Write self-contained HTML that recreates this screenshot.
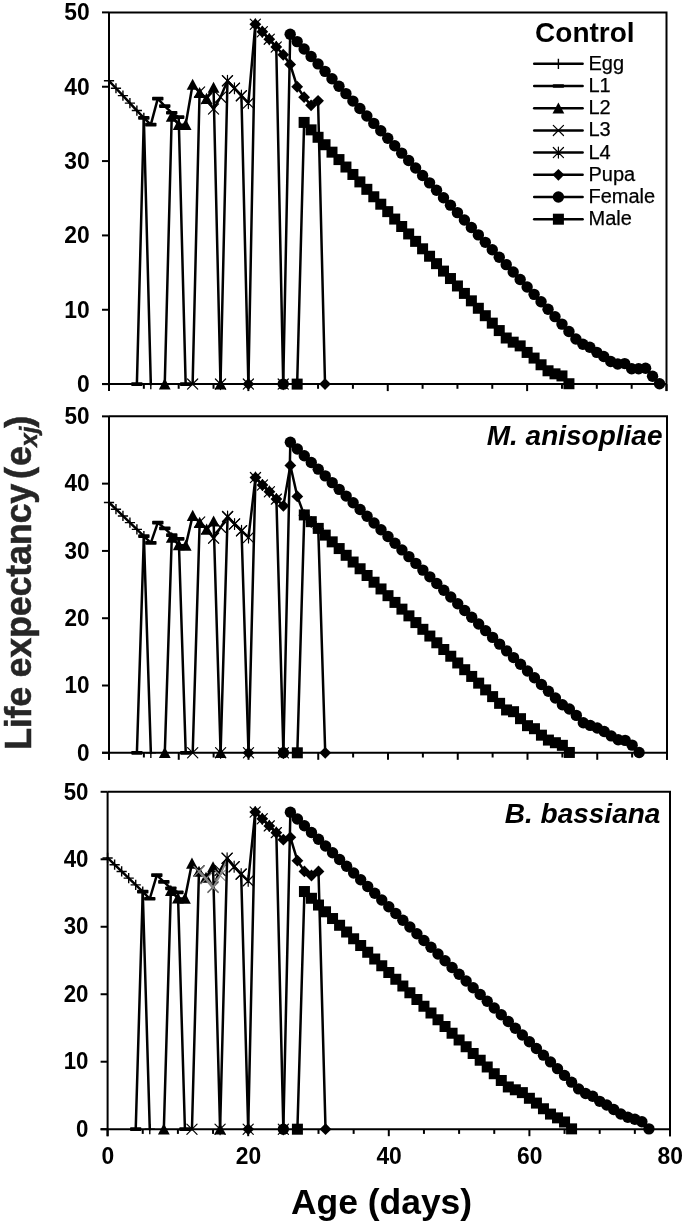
<!DOCTYPE html>
<html><head><meta charset="utf-8"><title>Life expectancy</title>
<style>
html,body{margin:0;padding:0;background:#fff;}
body{width:685px;height:1226px;overflow:hidden;font-family:"Liberation Sans",sans-serif;}
svg{display:block;will-change:transform;}
text{font-family:"Liberation Sans",sans-serif;fill:#000;}
.t{font-weight:bold;font-size:24.7px;}
.lg{font-size:20px;stroke:#000;stroke-width:0.25px;}
.ttl{font-weight:bold;font-size:28px;}
.ax{font-weight:bold;font-size:36px;fill:#262626;stroke:#262626;stroke-width:0.5px;}
</style></head><body>
<svg width="685" height="1226" viewBox="0 0 685 1226">
<rect width="685" height="1226" fill="#fff"/>

<g id="panel1">
<path d="M109.0 12.4H666.5V391.1M102.0 384.1H666.5M109.0 12.4V391.1" stroke="#000" stroke-width="2.0" fill="none" stroke-linecap="butt"/>
<path d="M102.0 384.10H109.0" stroke="#000" stroke-width="2.0"/>
<text class="t" style="font-size:24.1px" transform="translate(89.6,391.90) scale(0.948,1)" text-anchor="end">0</text>
<path d="M102.0 309.76H109.0" stroke="#000" stroke-width="2.0"/>
<text class="t" style="font-size:24.1px" transform="translate(89.6,317.56) scale(0.948,1)" text-anchor="end">10</text>
<path d="M102.0 235.42H109.0" stroke="#000" stroke-width="2.0"/>
<text class="t" style="font-size:24.1px" transform="translate(89.6,243.22) scale(0.948,1)" text-anchor="end">20</text>
<path d="M102.0 161.08H109.0" stroke="#000" stroke-width="2.0"/>
<text class="t" style="font-size:24.1px" transform="translate(89.6,168.88) scale(0.948,1)" text-anchor="end">30</text>
<path d="M102.0 86.74H109.0" stroke="#000" stroke-width="2.0"/>
<text class="t" style="font-size:24.1px" transform="translate(89.6,94.54) scale(0.948,1)" text-anchor="end">40</text>
<path d="M102.0 12.40H109.0" stroke="#000" stroke-width="2.0"/>
<text class="t" style="font-size:24.1px" transform="translate(89.6,20.20) scale(0.948,1)" text-anchor="end">50</text>
<path d="M109.00 384.1V391.1" stroke="#000" stroke-width="2.0"/>
<path d="M143.84 384.1V388.8" stroke="#000" stroke-width="2.0"/>
<path d="M178.69 384.1V388.8" stroke="#000" stroke-width="2.0"/>
<path d="M213.53 384.1V388.8" stroke="#000" stroke-width="2.0"/>
<path d="M248.38 384.1V391.1" stroke="#000" stroke-width="2.0"/>
<path d="M283.22 384.1V388.8" stroke="#000" stroke-width="2.0"/>
<path d="M318.06 384.1V388.8" stroke="#000" stroke-width="2.0"/>
<path d="M352.91 384.1V388.8" stroke="#000" stroke-width="2.0"/>
<path d="M387.75 384.1V391.1" stroke="#000" stroke-width="2.0"/>
<path d="M422.59 384.1V388.8" stroke="#000" stroke-width="2.0"/>
<path d="M457.44 384.1V388.8" stroke="#000" stroke-width="2.0"/>
<path d="M492.28 384.1V388.8" stroke="#000" stroke-width="2.0"/>
<path d="M527.12 384.1V391.1" stroke="#000" stroke-width="2.0"/>
<path d="M561.97 384.1V388.8" stroke="#000" stroke-width="2.0"/>
<path d="M596.81 384.1V388.8" stroke="#000" stroke-width="2.0"/>
<path d="M631.66 384.1V388.8" stroke="#000" stroke-width="2.0"/>
<path d="M666.50 384.1V391.1" stroke="#000" stroke-width="2.0"/>
<polyline points="109.00,80.79 115.97,88.23 122.94,95.66 129.91,103.09 136.88,110.53 143.84,117.96 150.81,384.10" fill="none" stroke="#000" stroke-width="2.5" stroke-linejoin="round" stroke-linecap="round"/>
<path d="M103.90 80.79H114.10M109.0 75.69V85.89" stroke="#000" stroke-width="1.4" fill="none"/>
<path d="M110.87 88.23H121.07M115.97 83.13V93.33" stroke="#000" stroke-width="1.4" fill="none"/>
<path d="M117.84 95.66H128.04M122.94 90.56V100.76" stroke="#000" stroke-width="1.4" fill="none"/>
<path d="M124.81 103.09H135.01M129.91 97.99V108.19" stroke="#000" stroke-width="1.4" fill="none"/>
<path d="M131.78 110.53H141.98M136.88 105.43V115.63" stroke="#000" stroke-width="1.4" fill="none"/>
<path d="M138.74 117.96H148.94M143.84 112.86V123.06" stroke="#000" stroke-width="1.4" fill="none"/>
<path d="M145.71 384.1H155.91M150.81 379.00V389.20" stroke="#000" stroke-width="1.4" fill="none"/>
<polyline points="136.88,384.10 143.84,117.96 150.81,124.65 157.78,98.63 164.75,106.07 171.72,112.76 178.69,117.22 185.66,384.10" fill="none" stroke="#000" stroke-width="2.5" stroke-linejoin="round" stroke-linecap="round"/>
<rect x="131.18" y="382.25" width="11.4" height="3.7" rx="0.8" fill="#000"/>
<rect x="138.14" y="116.11" width="11.4" height="3.7" rx="0.8" fill="#000"/>
<rect x="145.11" y="122.80" width="11.4" height="3.7" rx="0.8" fill="#000"/>
<rect x="152.08" y="96.78" width="11.4" height="3.7" rx="0.8" fill="#000"/>
<rect x="159.05" y="104.22" width="11.4" height="3.7" rx="0.8" fill="#000"/>
<rect x="166.02" y="110.91" width="11.4" height="3.7" rx="0.8" fill="#000"/>
<rect x="172.99" y="115.37" width="11.4" height="3.7" rx="0.8" fill="#000"/>
<rect x="179.96" y="382.25" width="11.4" height="3.7" rx="0.8" fill="#000"/>
<polyline points="164.75,384.10 171.72,116.48 178.69,124.65 185.66,124.65 192.62,84.51 199.59,92.69 206.56,98.63 213.53,87.48 220.50,384.10" fill="none" stroke="#000" stroke-width="2.5" stroke-linejoin="round" stroke-linecap="round"/>
<path d="M164.75 378.30L170.65 389.40H158.85Z" fill="#000"/>
<path d="M171.72 110.68L177.62 121.78H165.82Z" fill="#000"/>
<path d="M178.69 118.85L184.59 129.95H172.79Z" fill="#000"/>
<path d="M185.66 118.85L191.56 129.95H179.76Z" fill="#000"/>
<path d="M192.62 78.71L198.52 89.81H186.72Z" fill="#000"/>
<path d="M199.59 86.89L205.49 97.99H193.69Z" fill="#000"/>
<path d="M206.56 92.83L212.46 103.93H200.66Z" fill="#000"/>
<path d="M213.53 81.68L219.43 92.78H207.63Z" fill="#000"/>
<path d="M220.5 378.30L226.40 389.40H214.60Z" fill="#000"/>
<polyline points="192.62,384.10 199.59,91.94 206.56,98.63 213.53,109.04 220.50,97.15 227.47,80.79 234.44,88.23 241.41,95.66 248.38,384.10" fill="none" stroke="#000" stroke-width="2.5" stroke-linejoin="round" stroke-linecap="round"/>
<path d="M187.52 379.00L197.72 389.20M187.52 389.20L197.72 379.00" stroke="#000" stroke-width="1.2" fill="none" stroke-linecap="round"/>
<path d="M194.49 86.84L204.69 97.04M194.49 97.04L204.69 86.84" stroke="#000" stroke-width="1.2" fill="none" stroke-linecap="round"/>
<path d="M201.46 93.53L211.66 103.73M201.46 103.73L211.66 93.53" stroke="#000" stroke-width="1.2" fill="none" stroke-linecap="round"/>
<path d="M208.43 103.94L218.63 114.14M208.43 114.14L218.63 103.94" stroke="#000" stroke-width="1.2" fill="none" stroke-linecap="round"/>
<path d="M215.40 92.05L225.60 102.25M215.40 102.25L225.60 92.05" stroke="#000" stroke-width="1.2" fill="none" stroke-linecap="round"/>
<path d="M222.37 75.69L232.57 85.89M222.37 85.89L232.57 75.69" stroke="#000" stroke-width="1.2" fill="none" stroke-linecap="round"/>
<path d="M229.34 83.13L239.54 93.33M229.34 93.33L239.54 83.13" stroke="#000" stroke-width="1.2" fill="none" stroke-linecap="round"/>
<path d="M236.31 90.56L246.51 100.76M236.31 100.76L246.51 90.56" stroke="#000" stroke-width="1.2" fill="none" stroke-linecap="round"/>
<path d="M243.28 379.00L253.48 389.20M243.28 389.20L253.48 379.00" stroke="#000" stroke-width="1.2" fill="none" stroke-linecap="round"/>
<polyline points="220.50,384.10 227.47,80.79 234.44,88.23 241.41,95.66 248.38,103.09 255.34,24.29 262.31,31.73 269.28,39.16 276.25,46.97 283.22,384.10" fill="none" stroke="#000" stroke-width="2.5" stroke-linejoin="round" stroke-linecap="round"/>
<path d="M215.40 379.00L225.60 389.20M215.40 389.20L225.60 379.00M220.5 378.60V389.60" stroke="#000" stroke-width="1.2" fill="none" stroke-linecap="round"/>
<path d="M222.37 75.69L232.57 85.89M222.37 85.89L232.57 75.69M227.47 75.29V86.29" stroke="#000" stroke-width="1.2" fill="none" stroke-linecap="round"/>
<path d="M229.34 83.13L239.54 93.33M229.34 93.33L239.54 83.13M234.44 82.73V93.73" stroke="#000" stroke-width="1.2" fill="none" stroke-linecap="round"/>
<path d="M236.31 90.56L246.51 100.76M236.31 100.76L246.51 90.56M241.41 90.16V101.16" stroke="#000" stroke-width="1.2" fill="none" stroke-linecap="round"/>
<path d="M243.28 97.99L253.48 108.19M243.28 108.19L253.48 97.99M248.38 97.59V108.59" stroke="#000" stroke-width="1.2" fill="none" stroke-linecap="round"/>
<path d="M250.24 19.19L260.44 29.39M250.24 29.39L260.44 19.19M255.34 18.79V29.79" stroke="#000" stroke-width="1.2" fill="none" stroke-linecap="round"/>
<path d="M257.21 26.63L267.41 36.83M257.21 36.83L267.41 26.63M262.31 26.23V37.23" stroke="#000" stroke-width="1.2" fill="none" stroke-linecap="round"/>
<path d="M264.18 34.06L274.38 44.26M264.18 44.26L274.38 34.06M269.28 33.66V44.66" stroke="#000" stroke-width="1.2" fill="none" stroke-linecap="round"/>
<path d="M271.15 41.87L281.35 52.07M271.15 52.07L281.35 41.87M276.25 41.47V52.47" stroke="#000" stroke-width="1.2" fill="none" stroke-linecap="round"/>
<path d="M278.12 379.00L288.32 389.20M278.12 389.20L288.32 379.00M283.22 378.60V389.60" stroke="#000" stroke-width="1.2" fill="none" stroke-linecap="round"/>
<polyline points="248.38,384.10 255.34,24.29 262.31,31.73 269.28,39.16 276.25,46.97 283.22,54.77 290.19,64.44 297.16,86.74 304.12,97.15 311.09,105.32 318.06,100.86 325.03,384.10" fill="none" stroke="#000" stroke-width="2.5" stroke-linejoin="round" stroke-linecap="round"/>
<path d="M248.38 378.20L254.28 384.1L248.38 390.00L242.48 384.1Z" fill="#000"/>
<path d="M255.34 18.39L261.24 24.29L255.34 30.19L249.44 24.29Z" fill="#000"/>
<path d="M262.31 25.83L268.21 31.73L262.31 37.63L256.41 31.73Z" fill="#000"/>
<path d="M269.28 33.26L275.18 39.16L269.28 45.06L263.38 39.16Z" fill="#000"/>
<path d="M276.25 41.07L282.15 46.97L276.25 52.87L270.35 46.97Z" fill="#000"/>
<path d="M283.22 48.87L289.12 54.77L283.22 60.67L277.32 54.77Z" fill="#000"/>
<path d="M290.19 58.54L296.09 64.44L290.19 70.34L284.29 64.44Z" fill="#000"/>
<path d="M297.16 80.84L303.06 86.74L297.16 92.64L291.26 86.74Z" fill="#000"/>
<path d="M304.12 91.25L310.02 97.15L304.12 103.05L298.22 97.15Z" fill="#000"/>
<path d="M311.09 99.42L316.99 105.32L311.09 111.22L305.19 105.32Z" fill="#000"/>
<path d="M318.06 94.96L323.96 100.86L318.06 106.76L312.16 100.86Z" fill="#000"/>
<path d="M325.03 378.20L330.93 384.1L325.03 390.00L319.13 384.1Z" fill="#000"/>
<polyline points="283.22,384.10 290.19,34.18 297.16,41.62 304.12,49.05 311.09,56.48 318.06,63.92 325.03,71.35 332.00,78.79 338.97,86.22 345.94,93.65 352.91,101.09 359.88,108.52 366.84,115.96 373.81,123.39 380.78,130.82 387.75,138.26 394.72,145.69 401.69,153.13 408.66,160.56 415.62,167.99 422.59,175.43 429.56,182.86 436.53,190.30 443.50,197.73 450.47,205.16 457.44,212.60 464.41,220.03 471.38,227.47 478.34,234.90 485.31,242.33 492.28,249.77 499.25,257.20 506.22,264.64 513.19,272.07 520.16,279.50 527.12,286.94 534.09,294.37 541.06,301.81 548.03,309.24 555.00,316.67 561.97,324.11 568.94,331.54 575.91,338.98 582.88,344.18 589.84,347.23 596.81,352.36 603.78,356.45 610.75,361.57 617.72,364.03 624.69,363.58 631.66,368.71 638.62,368.71 645.59,368.27 652.56,376.22 659.53,383.73" fill="none" stroke="#000" stroke-width="2.5" stroke-linejoin="round" stroke-linecap="round"/>
<circle cx="283.22" cy="384.1" r="5.7" fill="#000"/>
<circle cx="290.19" cy="34.18" r="5.7" fill="#000"/>
<circle cx="297.16" cy="41.62" r="5.7" fill="#000"/>
<circle cx="304.12" cy="49.05" r="5.7" fill="#000"/>
<circle cx="311.09" cy="56.48" r="5.7" fill="#000"/>
<circle cx="318.06" cy="63.92" r="5.7" fill="#000"/>
<circle cx="325.03" cy="71.35" r="5.7" fill="#000"/>
<circle cx="332.0" cy="78.79" r="5.7" fill="#000"/>
<circle cx="338.97" cy="86.22" r="5.7" fill="#000"/>
<circle cx="345.94" cy="93.65" r="5.7" fill="#000"/>
<circle cx="352.91" cy="101.09" r="5.7" fill="#000"/>
<circle cx="359.88" cy="108.52" r="5.7" fill="#000"/>
<circle cx="366.84" cy="115.96" r="5.7" fill="#000"/>
<circle cx="373.81" cy="123.39" r="5.7" fill="#000"/>
<circle cx="380.78" cy="130.82" r="5.7" fill="#000"/>
<circle cx="387.75" cy="138.26" r="5.7" fill="#000"/>
<circle cx="394.72" cy="145.69" r="5.7" fill="#000"/>
<circle cx="401.69" cy="153.13" r="5.7" fill="#000"/>
<circle cx="408.66" cy="160.56" r="5.7" fill="#000"/>
<circle cx="415.62" cy="167.99" r="5.7" fill="#000"/>
<circle cx="422.59" cy="175.43" r="5.7" fill="#000"/>
<circle cx="429.56" cy="182.86" r="5.7" fill="#000"/>
<circle cx="436.53" cy="190.3" r="5.7" fill="#000"/>
<circle cx="443.5" cy="197.73" r="5.7" fill="#000"/>
<circle cx="450.47" cy="205.16" r="5.7" fill="#000"/>
<circle cx="457.44" cy="212.6" r="5.7" fill="#000"/>
<circle cx="464.41" cy="220.03" r="5.7" fill="#000"/>
<circle cx="471.38" cy="227.47" r="5.7" fill="#000"/>
<circle cx="478.34" cy="234.9" r="5.7" fill="#000"/>
<circle cx="485.31" cy="242.33" r="5.7" fill="#000"/>
<circle cx="492.28" cy="249.77" r="5.7" fill="#000"/>
<circle cx="499.25" cy="257.2" r="5.7" fill="#000"/>
<circle cx="506.22" cy="264.64" r="5.7" fill="#000"/>
<circle cx="513.19" cy="272.07" r="5.7" fill="#000"/>
<circle cx="520.16" cy="279.5" r="5.7" fill="#000"/>
<circle cx="527.12" cy="286.94" r="5.7" fill="#000"/>
<circle cx="534.09" cy="294.37" r="5.7" fill="#000"/>
<circle cx="541.06" cy="301.81" r="5.7" fill="#000"/>
<circle cx="548.03" cy="309.24" r="5.7" fill="#000"/>
<circle cx="555.0" cy="316.67" r="5.7" fill="#000"/>
<circle cx="561.97" cy="324.11" r="5.7" fill="#000"/>
<circle cx="568.94" cy="331.54" r="5.7" fill="#000"/>
<circle cx="575.91" cy="338.98" r="5.7" fill="#000"/>
<circle cx="582.88" cy="344.18" r="5.7" fill="#000"/>
<circle cx="589.84" cy="347.23" r="5.7" fill="#000"/>
<circle cx="596.81" cy="352.36" r="5.7" fill="#000"/>
<circle cx="603.78" cy="356.45" r="5.7" fill="#000"/>
<circle cx="610.75" cy="361.57" r="5.7" fill="#000"/>
<circle cx="617.72" cy="364.03" r="5.7" fill="#000"/>
<circle cx="624.69" cy="363.58" r="5.7" fill="#000"/>
<circle cx="631.66" cy="368.71" r="5.7" fill="#000"/>
<circle cx="638.62" cy="368.71" r="5.7" fill="#000"/>
<circle cx="645.59" cy="368.27" r="5.7" fill="#000"/>
<circle cx="652.56" cy="376.22" r="5.7" fill="#000"/>
<circle cx="659.53" cy="383.73" r="5.7" fill="#000"/>
<polyline points="297.16,384.10 304.12,122.42 311.09,129.86 318.06,137.29 325.03,144.73 332.00,152.16 338.97,159.59 345.94,167.03 352.91,174.46 359.88,181.90 366.84,189.33 373.81,196.76 380.78,204.20 387.75,211.63 394.72,219.07 401.69,226.50 408.66,233.93 415.62,241.37 422.59,248.80 429.56,256.24 436.53,263.67 443.50,271.10 450.47,278.54 457.44,285.97 464.41,293.41 471.38,300.84 478.34,308.27 485.31,315.71 492.28,323.14 499.25,330.58 506.22,338.01 513.19,342.17 520.16,345.89 527.12,352.43 534.09,358.08 541.06,364.77 548.03,370.79 555.00,373.84 561.97,375.92 568.94,383.73" fill="none" stroke="#000" stroke-width="2.5" stroke-linejoin="round" stroke-linecap="round"/>
<rect x="291.66" y="378.60" width="11" height="11" fill="#000"/>
<rect x="298.62" y="116.92" width="11" height="11" fill="#000"/>
<rect x="305.59" y="124.36" width="11" height="11" fill="#000"/>
<rect x="312.56" y="131.79" width="11" height="11" fill="#000"/>
<rect x="319.53" y="139.23" width="11" height="11" fill="#000"/>
<rect x="326.50" y="146.66" width="11" height="11" fill="#000"/>
<rect x="333.47" y="154.09" width="11" height="11" fill="#000"/>
<rect x="340.44" y="161.53" width="11" height="11" fill="#000"/>
<rect x="347.41" y="168.96" width="11" height="11" fill="#000"/>
<rect x="354.38" y="176.40" width="11" height="11" fill="#000"/>
<rect x="361.34" y="183.83" width="11" height="11" fill="#000"/>
<rect x="368.31" y="191.26" width="11" height="11" fill="#000"/>
<rect x="375.28" y="198.70" width="11" height="11" fill="#000"/>
<rect x="382.25" y="206.13" width="11" height="11" fill="#000"/>
<rect x="389.22" y="213.57" width="11" height="11" fill="#000"/>
<rect x="396.19" y="221.00" width="11" height="11" fill="#000"/>
<rect x="403.16" y="228.43" width="11" height="11" fill="#000"/>
<rect x="410.12" y="235.87" width="11" height="11" fill="#000"/>
<rect x="417.09" y="243.30" width="11" height="11" fill="#000"/>
<rect x="424.06" y="250.74" width="11" height="11" fill="#000"/>
<rect x="431.03" y="258.17" width="11" height="11" fill="#000"/>
<rect x="438.00" y="265.60" width="11" height="11" fill="#000"/>
<rect x="444.97" y="273.04" width="11" height="11" fill="#000"/>
<rect x="451.94" y="280.47" width="11" height="11" fill="#000"/>
<rect x="458.91" y="287.91" width="11" height="11" fill="#000"/>
<rect x="465.88" y="295.34" width="11" height="11" fill="#000"/>
<rect x="472.84" y="302.77" width="11" height="11" fill="#000"/>
<rect x="479.81" y="310.21" width="11" height="11" fill="#000"/>
<rect x="486.78" y="317.64" width="11" height="11" fill="#000"/>
<rect x="493.75" y="325.08" width="11" height="11" fill="#000"/>
<rect x="500.72" y="332.51" width="11" height="11" fill="#000"/>
<rect x="507.69" y="336.67" width="11" height="11" fill="#000"/>
<rect x="514.66" y="340.39" width="11" height="11" fill="#000"/>
<rect x="521.62" y="346.93" width="11" height="11" fill="#000"/>
<rect x="528.59" y="352.58" width="11" height="11" fill="#000"/>
<rect x="535.56" y="359.27" width="11" height="11" fill="#000"/>
<rect x="542.53" y="365.29" width="11" height="11" fill="#000"/>
<rect x="549.50" y="368.34" width="11" height="11" fill="#000"/>
<rect x="556.47" y="370.42" width="11" height="11" fill="#000"/>
<rect x="563.44" y="378.23" width="11" height="11" fill="#000"/>
</g>
<g id="panel2">
<path d="M109.0 416.35H667.0V759.8M102.0 752.8H667.0M109.0 416.35V759.8" stroke="#000" stroke-width="2.0" fill="none" stroke-linecap="butt"/>
<path d="M102.0 752.80H109.0" stroke="#000" stroke-width="2.0"/>
<text class="t" style="font-size:23.7px" transform="translate(89.6,760.60) scale(0.951,1)" text-anchor="end">0</text>
<path d="M102.0 685.51H109.0" stroke="#000" stroke-width="2.0"/>
<text class="t" style="font-size:23.7px" transform="translate(89.6,693.31) scale(0.951,1)" text-anchor="end">10</text>
<path d="M102.0 618.22H109.0" stroke="#000" stroke-width="2.0"/>
<text class="t" style="font-size:23.7px" transform="translate(89.6,626.02) scale(0.951,1)" text-anchor="end">20</text>
<path d="M102.0 550.93H109.0" stroke="#000" stroke-width="2.0"/>
<text class="t" style="font-size:23.7px" transform="translate(89.6,558.73) scale(0.951,1)" text-anchor="end">30</text>
<path d="M102.0 483.64H109.0" stroke="#000" stroke-width="2.0"/>
<text class="t" style="font-size:23.7px" transform="translate(89.6,491.44) scale(0.951,1)" text-anchor="end">40</text>
<path d="M102.0 416.35H109.0" stroke="#000" stroke-width="2.0"/>
<text class="t" style="font-size:23.7px" transform="translate(89.6,424.15) scale(0.951,1)" text-anchor="end">50</text>
<path d="M109.00 752.8V759.8" stroke="#000" stroke-width="2.0"/>
<path d="M143.88 752.8V757.5" stroke="#000" stroke-width="2.0"/>
<path d="M178.75 752.8V759.8" stroke="#000" stroke-width="2.0"/>
<path d="M213.62 752.8V757.5" stroke="#000" stroke-width="2.0"/>
<path d="M248.50 752.8V759.8" stroke="#000" stroke-width="2.0"/>
<path d="M283.38 752.8V757.5" stroke="#000" stroke-width="2.0"/>
<path d="M318.25 752.8V759.8" stroke="#000" stroke-width="2.0"/>
<path d="M353.12 752.8V757.5" stroke="#000" stroke-width="2.0"/>
<path d="M388.00 752.8V759.8" stroke="#000" stroke-width="2.0"/>
<path d="M422.88 752.8V757.5" stroke="#000" stroke-width="2.0"/>
<path d="M457.75 752.8V759.8" stroke="#000" stroke-width="2.0"/>
<path d="M492.62 752.8V757.5" stroke="#000" stroke-width="2.0"/>
<path d="M527.50 752.8V759.8" stroke="#000" stroke-width="2.0"/>
<path d="M562.38 752.8V757.5" stroke="#000" stroke-width="2.0"/>
<path d="M597.25 752.8V759.8" stroke="#000" stroke-width="2.0"/>
<path d="M632.12 752.8V757.5" stroke="#000" stroke-width="2.0"/>
<path d="M667.00 752.8V759.8" stroke="#000" stroke-width="2.0"/>
<polyline points="109.00,502.48 115.97,509.21 122.95,515.94 129.93,522.67 136.90,529.40 143.88,536.13 150.85,752.80" fill="none" stroke="#000" stroke-width="2.5" stroke-linejoin="round" stroke-linecap="round"/>
<path d="M103.90 502.48H114.10M109.0 497.38V507.58" stroke="#000" stroke-width="1.4" fill="none"/>
<path d="M110.87 509.21H121.07M115.97 504.11V514.31" stroke="#000" stroke-width="1.4" fill="none"/>
<path d="M117.85 515.94H128.05M122.95 510.84V521.04" stroke="#000" stroke-width="1.4" fill="none"/>
<path d="M124.83 522.67H135.03M129.93 517.57V527.77" stroke="#000" stroke-width="1.4" fill="none"/>
<path d="M131.80 529.4H142.00M136.9 524.30V534.50" stroke="#000" stroke-width="1.4" fill="none"/>
<path d="M138.78 536.13H148.98M143.88 531.03V541.23" stroke="#000" stroke-width="1.4" fill="none"/>
<path d="M145.75 752.8H155.95M150.85 747.70V757.90" stroke="#000" stroke-width="1.4" fill="none"/>
<polyline points="136.90,752.80 143.88,536.13 150.85,542.86 157.82,522.67 164.80,528.39 171.78,535.12 178.75,538.82 185.72,752.80" fill="none" stroke="#000" stroke-width="2.5" stroke-linejoin="round" stroke-linecap="round"/>
<rect x="131.20" y="750.95" width="11.4" height="3.7" rx="0.8" fill="#000"/>
<rect x="138.18" y="534.28" width="11.4" height="3.7" rx="0.8" fill="#000"/>
<rect x="145.15" y="541.01" width="11.4" height="3.7" rx="0.8" fill="#000"/>
<rect x="152.12" y="520.82" width="11.4" height="3.7" rx="0.8" fill="#000"/>
<rect x="159.10" y="526.54" width="11.4" height="3.7" rx="0.8" fill="#000"/>
<rect x="166.08" y="533.27" width="11.4" height="3.7" rx="0.8" fill="#000"/>
<rect x="173.05" y="536.97" width="11.4" height="3.7" rx="0.8" fill="#000"/>
<rect x="180.02" y="750.95" width="11.4" height="3.7" rx="0.8" fill="#000"/>
<polyline points="164.80,752.80 171.78,537.47 178.75,544.87 185.72,545.55 192.70,515.60 199.68,522.67 206.65,529.40 213.62,521.32 220.60,752.80" fill="none" stroke="#000" stroke-width="2.5" stroke-linejoin="round" stroke-linecap="round"/>
<path d="M164.8 747.00L170.70 758.10H158.90Z" fill="#000"/>
<path d="M171.78 531.67L177.68 542.77H165.88Z" fill="#000"/>
<path d="M178.75 539.07L184.65 550.17H172.85Z" fill="#000"/>
<path d="M185.72 539.75L191.62 550.85H179.82Z" fill="#000"/>
<path d="M192.7 509.80L198.60 520.90H186.80Z" fill="#000"/>
<path d="M199.68 516.87L205.58 527.97H193.78Z" fill="#000"/>
<path d="M206.65 523.60L212.55 534.70H200.75Z" fill="#000"/>
<path d="M213.62 515.52L219.52 526.62H207.72Z" fill="#000"/>
<path d="M220.6 747.00L226.50 758.10H214.70Z" fill="#000"/>
<polyline points="192.70,752.80 199.68,522.00 206.65,528.72 213.62,538.14 220.60,527.38 227.57,516.61 234.55,524.01 241.53,530.74 248.50,752.80" fill="none" stroke="#000" stroke-width="2.5" stroke-linejoin="round" stroke-linecap="round"/>
<path d="M187.60 747.70L197.80 757.90M187.60 757.90L197.80 747.70" stroke="#000" stroke-width="1.2" fill="none" stroke-linecap="round"/>
<path d="M194.58 516.90L204.78 527.10M194.58 527.10L204.78 516.90" stroke="#000" stroke-width="1.2" fill="none" stroke-linecap="round"/>
<path d="M201.55 523.62L211.75 533.82M201.55 533.82L211.75 523.62" stroke="#000" stroke-width="1.2" fill="none" stroke-linecap="round"/>
<path d="M208.52 533.04L218.72 543.24M208.52 543.24L218.72 533.04" stroke="#000" stroke-width="1.2" fill="none" stroke-linecap="round"/>
<path d="M215.50 522.28L225.70 532.48M215.50 532.48L225.70 522.28" stroke="#000" stroke-width="1.2" fill="none" stroke-linecap="round"/>
<path d="M222.47 511.51L232.67 521.71M222.47 521.71L232.67 511.51" stroke="#000" stroke-width="1.2" fill="none" stroke-linecap="round"/>
<path d="M229.45 518.91L239.65 529.11M229.45 529.11L239.65 518.91" stroke="#000" stroke-width="1.2" fill="none" stroke-linecap="round"/>
<path d="M236.43 525.64L246.63 535.84M236.43 535.84L246.63 525.64" stroke="#000" stroke-width="1.2" fill="none" stroke-linecap="round"/>
<path d="M243.40 747.70L253.60 757.90M243.40 757.90L253.60 747.70" stroke="#000" stroke-width="1.2" fill="none" stroke-linecap="round"/>
<polyline points="220.60,752.80 227.57,516.61 234.55,524.01 241.53,530.74 248.50,537.47 255.47,477.58 262.45,484.99 269.42,491.71 276.40,499.12 283.38,752.80" fill="none" stroke="#000" stroke-width="2.5" stroke-linejoin="round" stroke-linecap="round"/>
<path d="M215.50 747.70L225.70 757.90M215.50 757.90L225.70 747.70M220.6 747.30V758.30" stroke="#000" stroke-width="1.2" fill="none" stroke-linecap="round"/>
<path d="M222.47 511.51L232.67 521.71M222.47 521.71L232.67 511.51M227.57 511.11V522.11" stroke="#000" stroke-width="1.2" fill="none" stroke-linecap="round"/>
<path d="M229.45 518.91L239.65 529.11M229.45 529.11L239.65 518.91M234.55 518.51V529.51" stroke="#000" stroke-width="1.2" fill="none" stroke-linecap="round"/>
<path d="M236.43 525.64L246.63 535.84M236.43 535.84L246.63 525.64M241.53 525.24V536.24" stroke="#000" stroke-width="1.2" fill="none" stroke-linecap="round"/>
<path d="M243.40 532.37L253.60 542.57M243.40 542.57L253.60 532.37M248.5 531.97V542.97" stroke="#000" stroke-width="1.2" fill="none" stroke-linecap="round"/>
<path d="M250.37 472.48L260.57 482.68M250.37 482.68L260.57 472.48M255.47 472.08V483.08" stroke="#000" stroke-width="1.2" fill="none" stroke-linecap="round"/>
<path d="M257.35 479.89L267.55 490.09M257.35 490.09L267.55 479.89M262.45 479.49V490.49" stroke="#000" stroke-width="1.2" fill="none" stroke-linecap="round"/>
<path d="M264.32 486.61L274.52 496.81M264.32 496.81L274.52 486.61M269.42 486.21V497.21" stroke="#000" stroke-width="1.2" fill="none" stroke-linecap="round"/>
<path d="M271.30 494.02L281.50 504.22M271.30 504.22L281.50 494.02M276.4 493.62V504.62" stroke="#000" stroke-width="1.2" fill="none" stroke-linecap="round"/>
<path d="M278.28 747.70L288.48 757.90M278.28 757.90L288.48 747.70M283.38 747.30V758.30" stroke="#000" stroke-width="1.2" fill="none" stroke-linecap="round"/>
<polyline points="248.50,752.80 255.47,477.58 262.45,484.99 269.42,491.71 276.40,499.12 283.38,505.85 290.35,465.47 297.32,496.43 304.30,515.27 311.27,522.00 318.25,528.72 325.23,752.80" fill="none" stroke="#000" stroke-width="2.5" stroke-linejoin="round" stroke-linecap="round"/>
<path d="M248.5 746.90L254.40 752.8L248.5 758.70L242.60 752.8Z" fill="#000"/>
<path d="M255.47 471.68L261.37 477.58L255.47 483.48L249.57 477.58Z" fill="#000"/>
<path d="M262.45 479.09L268.35 484.99L262.45 490.89L256.55 484.99Z" fill="#000"/>
<path d="M269.42 485.81L275.32 491.71L269.42 497.61L263.52 491.71Z" fill="#000"/>
<path d="M276.4 493.22L282.30 499.12L276.4 505.02L270.50 499.12Z" fill="#000"/>
<path d="M283.38 499.95L289.28 505.85L283.38 511.75L277.48 505.85Z" fill="#000"/>
<path d="M290.35 459.57L296.25 465.47L290.35 471.37L284.45 465.47Z" fill="#000"/>
<path d="M297.32 490.53L303.22 496.43L297.32 502.33L291.42 496.43Z" fill="#000"/>
<path d="M304.3 509.37L310.20 515.27L304.3 521.17L298.40 515.27Z" fill="#000"/>
<path d="M311.27 516.10L317.17 522.0L311.27 527.90L305.37 522.0Z" fill="#000"/>
<path d="M318.25 522.82L324.15 528.72L318.25 534.62L312.35 528.72Z" fill="#000"/>
<path d="M325.23 746.90L331.13 752.8L325.23 758.70L319.33 752.8Z" fill="#000"/>
<polyline points="283.38,752.80 290.35,442.26 297.32,448.99 304.30,455.71 311.27,462.44 318.25,469.17 325.23,475.90 332.20,482.63 339.17,489.36 346.15,496.09 353.12,502.82 360.10,509.55 367.07,516.28 374.05,523.00 381.02,529.73 388.00,536.46 394.97,543.19 401.95,549.92 408.93,556.65 415.90,563.38 422.88,570.11 429.85,576.84 436.82,583.57 443.80,590.29 450.77,597.02 457.75,603.75 464.72,610.48 471.70,617.21 478.67,623.94 485.65,630.67 492.62,637.40 499.60,644.13 506.57,650.86 513.55,657.58 520.52,664.31 527.50,671.04 534.47,677.77 541.45,684.50 548.42,691.23 555.40,697.96 562.38,704.69 569.35,709.06 576.33,715.39 583.30,722.79 590.27,725.41 597.25,728.04 604.22,731.47 611.20,735.91 618.17,739.81 625.15,740.35 632.12,745.13 639.10,752.46" fill="none" stroke="#000" stroke-width="2.5" stroke-linejoin="round" stroke-linecap="round"/>
<circle cx="283.38" cy="752.8" r="5.7" fill="#000"/>
<circle cx="290.35" cy="442.26" r="5.7" fill="#000"/>
<circle cx="297.32" cy="448.99" r="5.7" fill="#000"/>
<circle cx="304.3" cy="455.71" r="5.7" fill="#000"/>
<circle cx="311.27" cy="462.44" r="5.7" fill="#000"/>
<circle cx="318.25" cy="469.17" r="5.7" fill="#000"/>
<circle cx="325.23" cy="475.9" r="5.7" fill="#000"/>
<circle cx="332.2" cy="482.63" r="5.7" fill="#000"/>
<circle cx="339.17" cy="489.36" r="5.7" fill="#000"/>
<circle cx="346.15" cy="496.09" r="5.7" fill="#000"/>
<circle cx="353.12" cy="502.82" r="5.7" fill="#000"/>
<circle cx="360.1" cy="509.55" r="5.7" fill="#000"/>
<circle cx="367.07" cy="516.28" r="5.7" fill="#000"/>
<circle cx="374.05" cy="523.0" r="5.7" fill="#000"/>
<circle cx="381.02" cy="529.73" r="5.7" fill="#000"/>
<circle cx="388.0" cy="536.46" r="5.7" fill="#000"/>
<circle cx="394.97" cy="543.19" r="5.7" fill="#000"/>
<circle cx="401.95" cy="549.92" r="5.7" fill="#000"/>
<circle cx="408.93" cy="556.65" r="5.7" fill="#000"/>
<circle cx="415.9" cy="563.38" r="5.7" fill="#000"/>
<circle cx="422.88" cy="570.11" r="5.7" fill="#000"/>
<circle cx="429.85" cy="576.84" r="5.7" fill="#000"/>
<circle cx="436.82" cy="583.57" r="5.7" fill="#000"/>
<circle cx="443.8" cy="590.29" r="5.7" fill="#000"/>
<circle cx="450.77" cy="597.02" r="5.7" fill="#000"/>
<circle cx="457.75" cy="603.75" r="5.7" fill="#000"/>
<circle cx="464.72" cy="610.48" r="5.7" fill="#000"/>
<circle cx="471.7" cy="617.21" r="5.7" fill="#000"/>
<circle cx="478.67" cy="623.94" r="5.7" fill="#000"/>
<circle cx="485.65" cy="630.67" r="5.7" fill="#000"/>
<circle cx="492.62" cy="637.4" r="5.7" fill="#000"/>
<circle cx="499.6" cy="644.13" r="5.7" fill="#000"/>
<circle cx="506.57" cy="650.86" r="5.7" fill="#000"/>
<circle cx="513.55" cy="657.58" r="5.7" fill="#000"/>
<circle cx="520.52" cy="664.31" r="5.7" fill="#000"/>
<circle cx="527.5" cy="671.04" r="5.7" fill="#000"/>
<circle cx="534.47" cy="677.77" r="5.7" fill="#000"/>
<circle cx="541.45" cy="684.5" r="5.7" fill="#000"/>
<circle cx="548.42" cy="691.23" r="5.7" fill="#000"/>
<circle cx="555.4" cy="697.96" r="5.7" fill="#000"/>
<circle cx="562.38" cy="704.69" r="5.7" fill="#000"/>
<circle cx="569.35" cy="709.06" r="5.7" fill="#000"/>
<circle cx="576.33" cy="715.39" r="5.7" fill="#000"/>
<circle cx="583.3" cy="722.79" r="5.7" fill="#000"/>
<circle cx="590.27" cy="725.41" r="5.7" fill="#000"/>
<circle cx="597.25" cy="728.04" r="5.7" fill="#000"/>
<circle cx="604.22" cy="731.47" r="5.7" fill="#000"/>
<circle cx="611.2" cy="735.91" r="5.7" fill="#000"/>
<circle cx="618.17" cy="739.81" r="5.7" fill="#000"/>
<circle cx="625.15" cy="740.35" r="5.7" fill="#000"/>
<circle cx="632.12" cy="745.13" r="5.7" fill="#000"/>
<circle cx="639.1" cy="752.46" r="5.7" fill="#000"/>
<polyline points="297.32,752.80 304.30,514.93 311.27,521.66 318.25,528.39 325.23,535.12 332.20,541.85 339.17,548.57 346.15,555.30 353.12,562.03 360.10,568.76 367.07,575.49 374.05,582.22 381.02,588.95 388.00,595.68 394.97,602.41 401.95,609.14 408.93,615.86 415.90,622.59 422.88,629.32 429.85,636.05 436.82,642.78 443.80,649.51 450.77,656.24 457.75,662.97 464.72,669.70 471.70,676.43 478.67,683.15 485.65,689.88 492.62,696.61 499.60,703.34 506.57,709.94 513.55,711.69 520.52,718.68 527.50,725.68 534.47,728.71 541.45,735.17 548.42,740.08 555.40,742.71 562.38,745.33 569.35,752.46" fill="none" stroke="#000" stroke-width="2.5" stroke-linejoin="round" stroke-linecap="round"/>
<rect x="291.82" y="747.30" width="11" height="11" fill="#000"/>
<rect x="298.80" y="509.43" width="11" height="11" fill="#000"/>
<rect x="305.77" y="516.16" width="11" height="11" fill="#000"/>
<rect x="312.75" y="522.89" width="11" height="11" fill="#000"/>
<rect x="319.73" y="529.62" width="11" height="11" fill="#000"/>
<rect x="326.70" y="536.35" width="11" height="11" fill="#000"/>
<rect x="333.67" y="543.07" width="11" height="11" fill="#000"/>
<rect x="340.65" y="549.80" width="11" height="11" fill="#000"/>
<rect x="347.62" y="556.53" width="11" height="11" fill="#000"/>
<rect x="354.60" y="563.26" width="11" height="11" fill="#000"/>
<rect x="361.57" y="569.99" width="11" height="11" fill="#000"/>
<rect x="368.55" y="576.72" width="11" height="11" fill="#000"/>
<rect x="375.52" y="583.45" width="11" height="11" fill="#000"/>
<rect x="382.50" y="590.18" width="11" height="11" fill="#000"/>
<rect x="389.47" y="596.91" width="11" height="11" fill="#000"/>
<rect x="396.45" y="603.64" width="11" height="11" fill="#000"/>
<rect x="403.43" y="610.36" width="11" height="11" fill="#000"/>
<rect x="410.40" y="617.09" width="11" height="11" fill="#000"/>
<rect x="417.38" y="623.82" width="11" height="11" fill="#000"/>
<rect x="424.35" y="630.55" width="11" height="11" fill="#000"/>
<rect x="431.32" y="637.28" width="11" height="11" fill="#000"/>
<rect x="438.30" y="644.01" width="11" height="11" fill="#000"/>
<rect x="445.27" y="650.74" width="11" height="11" fill="#000"/>
<rect x="452.25" y="657.47" width="11" height="11" fill="#000"/>
<rect x="459.22" y="664.20" width="11" height="11" fill="#000"/>
<rect x="466.20" y="670.93" width="11" height="11" fill="#000"/>
<rect x="473.17" y="677.65" width="11" height="11" fill="#000"/>
<rect x="480.15" y="684.38" width="11" height="11" fill="#000"/>
<rect x="487.12" y="691.11" width="11" height="11" fill="#000"/>
<rect x="494.10" y="697.84" width="11" height="11" fill="#000"/>
<rect x="501.07" y="704.44" width="11" height="11" fill="#000"/>
<rect x="508.05" y="706.19" width="11" height="11" fill="#000"/>
<rect x="515.02" y="713.18" width="11" height="11" fill="#000"/>
<rect x="522.00" y="720.18" width="11" height="11" fill="#000"/>
<rect x="528.97" y="723.21" width="11" height="11" fill="#000"/>
<rect x="535.95" y="729.67" width="11" height="11" fill="#000"/>
<rect x="542.92" y="734.58" width="11" height="11" fill="#000"/>
<rect x="549.90" y="737.21" width="11" height="11" fill="#000"/>
<rect x="556.88" y="739.83" width="11" height="11" fill="#000"/>
<rect x="563.85" y="746.96" width="11" height="11" fill="#000"/>
</g>
<g id="panel3">
<path d="M107.6 791.8H670.0V1136.2M100.6 1129.2H670.0M107.6 791.8V1136.2" stroke="#000" stroke-width="2.0" fill="none" stroke-linecap="butt"/>
<path d="M100.6 1129.20H107.6" stroke="#000" stroke-width="2.0"/>
<text class="t" style="font-size:23.3px" transform="translate(88.4,1136.90) scale(0.955,1)" text-anchor="end">0</text>
<path d="M100.6 1061.72H107.6" stroke="#000" stroke-width="2.0"/>
<text class="t" style="font-size:23.3px" transform="translate(88.4,1069.42) scale(0.955,1)" text-anchor="end">10</text>
<path d="M100.6 994.24H107.6" stroke="#000" stroke-width="2.0"/>
<text class="t" style="font-size:23.3px" transform="translate(88.4,1001.94) scale(0.955,1)" text-anchor="end">20</text>
<path d="M100.6 926.76H107.6" stroke="#000" stroke-width="2.0"/>
<text class="t" style="font-size:23.3px" transform="translate(88.4,934.46) scale(0.955,1)" text-anchor="end">30</text>
<path d="M100.6 859.28H107.6" stroke="#000" stroke-width="2.0"/>
<text class="t" style="font-size:23.3px" transform="translate(88.4,866.98) scale(0.955,1)" text-anchor="end">40</text>
<path d="M100.6 791.80H107.6" stroke="#000" stroke-width="2.0"/>
<text class="t" style="font-size:23.3px" transform="translate(88.4,799.50) scale(0.955,1)" text-anchor="end">50</text>
<path d="M107.60 1129.2V1136.2" stroke="#000" stroke-width="2.0"/>
<path d="M142.75 1129.2V1133.9" stroke="#000" stroke-width="2.0"/>
<path d="M177.90 1129.2V1133.9" stroke="#000" stroke-width="2.0"/>
<path d="M213.05 1129.2V1133.9" stroke="#000" stroke-width="2.0"/>
<path d="M248.20 1129.2V1136.2" stroke="#000" stroke-width="2.0"/>
<path d="M283.35 1129.2V1133.9" stroke="#000" stroke-width="2.0"/>
<path d="M318.50 1129.2V1133.9" stroke="#000" stroke-width="2.0"/>
<path d="M353.65 1129.2V1133.9" stroke="#000" stroke-width="2.0"/>
<path d="M388.80 1129.2V1136.2" stroke="#000" stroke-width="2.0"/>
<path d="M423.95 1129.2V1133.9" stroke="#000" stroke-width="2.0"/>
<path d="M459.10 1129.2V1133.9" stroke="#000" stroke-width="2.0"/>
<path d="M494.25 1129.2V1133.9" stroke="#000" stroke-width="2.0"/>
<path d="M529.40 1129.2V1136.2" stroke="#000" stroke-width="2.0"/>
<path d="M564.55 1129.2V1133.9" stroke="#000" stroke-width="2.0"/>
<path d="M599.70 1129.2V1133.9" stroke="#000" stroke-width="2.0"/>
<path d="M634.85 1129.2V1133.9" stroke="#000" stroke-width="2.0"/>
<path d="M670.00 1129.2V1136.2" stroke="#000" stroke-width="2.0"/>
<polyline points="107.60,857.93 114.63,864.68 121.66,871.43 128.69,878.17 135.72,884.92 142.75,891.67 149.78,1129.20" fill="none" stroke="#000" stroke-width="2.5" stroke-linejoin="round" stroke-linecap="round"/>
<path d="M102.50 857.93H112.70M107.6 852.83V863.03" stroke="#000" stroke-width="1.4" fill="none"/>
<path d="M109.53 864.68H119.73M114.63 859.58V869.78" stroke="#000" stroke-width="1.4" fill="none"/>
<path d="M116.56 871.43H126.76M121.66 866.33V876.53" stroke="#000" stroke-width="1.4" fill="none"/>
<path d="M123.59 878.17H133.79M128.69 873.07V883.27" stroke="#000" stroke-width="1.4" fill="none"/>
<path d="M130.62 884.92H140.82M135.72 879.82V890.02" stroke="#000" stroke-width="1.4" fill="none"/>
<path d="M137.65 891.67H147.85M142.75 886.57V896.77" stroke="#000" stroke-width="1.4" fill="none"/>
<path d="M144.68 1129.2H154.88M149.78 1124.10V1134.30" stroke="#000" stroke-width="1.4" fill="none"/>
<polyline points="135.72,1129.20 142.75,891.67 149.78,898.76 156.81,875.14 163.84,881.89 170.87,888.30 177.90,892.35 184.93,1129.20" fill="none" stroke="#000" stroke-width="2.5" stroke-linejoin="round" stroke-linecap="round"/>
<rect x="130.02" y="1127.35" width="11.4" height="3.7" rx="0.8" fill="#000"/>
<rect x="137.05" y="889.82" width="11.4" height="3.7" rx="0.8" fill="#000"/>
<rect x="144.08" y="896.91" width="11.4" height="3.7" rx="0.8" fill="#000"/>
<rect x="151.11" y="873.29" width="11.4" height="3.7" rx="0.8" fill="#000"/>
<rect x="158.14" y="880.04" width="11.4" height="3.7" rx="0.8" fill="#000"/>
<rect x="165.17" y="886.45" width="11.4" height="3.7" rx="0.8" fill="#000"/>
<rect x="172.20" y="890.50" width="11.4" height="3.7" rx="0.8" fill="#000"/>
<rect x="179.23" y="1127.35" width="11.4" height="3.7" rx="0.8" fill="#000"/>
<polyline points="163.84,1129.20 170.87,890.66 177.90,898.28 184.93,898.42 191.96,863.33 198.99,871.43 206.02,877.50 213.05,867.04 220.08,1129.20" fill="none" stroke="#000" stroke-width="2.5" stroke-linejoin="round" stroke-linecap="round"/>
<path d="M163.84 1123.40L169.74 1134.50H157.94Z" fill="#000"/>
<path d="M170.87 884.86L176.77 895.96H164.97Z" fill="#000"/>
<path d="M177.9 892.48L183.80 903.58H172.00Z" fill="#000"/>
<path d="M184.93 892.62L190.83 903.72H179.03Z" fill="#000"/>
<path d="M191.96 857.53L197.86 868.63H186.06Z" fill="#000"/>
<path d="M198.99 865.63L204.89 876.73H193.09Z" fill="#000"/>
<path d="M206.02 871.70L211.92 882.80H200.12Z" fill="#000"/>
<path d="M213.05 861.24L218.95 872.34H207.15Z" fill="#000"/>
<path d="M220.08 1123.40L225.98 1134.50H214.18Z" fill="#000"/>
<polyline points="191.96,1129.20 198.99,870.75 206.02,878.17 213.05,886.95 220.08,870.41 227.11,858.27 234.14,866.70 241.17,874.13 248.20,1129.20" fill="none" stroke="#000" stroke-width="2.5" stroke-linejoin="round" stroke-linecap="round"/>
<path d="M186.86 1124.10L197.06 1134.30M186.86 1134.30L197.06 1124.10" stroke="#000" stroke-width="1.2" fill="none" stroke-linecap="round"/>
<path d="M193.89 865.65L204.09 875.85M193.89 875.85L204.09 865.65" stroke="#000" stroke-width="1.2" fill="none" stroke-linecap="round"/>
<path d="M200.92 873.07L211.12 883.27M200.92 883.27L211.12 873.07" stroke="#000" stroke-width="1.2" fill="none" stroke-linecap="round"/>
<path d="M207.95 881.85L218.15 892.05M207.95 892.05L218.15 881.85" stroke="#000" stroke-width="1.2" fill="none" stroke-linecap="round"/>
<path d="M214.98 865.31L225.18 875.51M214.98 875.51L225.18 865.31" stroke="#000" stroke-width="1.2" fill="none" stroke-linecap="round"/>
<path d="M222.01 853.17L232.21 863.37M222.01 863.37L232.21 853.17" stroke="#000" stroke-width="1.2" fill="none" stroke-linecap="round"/>
<path d="M229.04 861.60L239.24 871.80M229.04 871.80L239.24 861.60" stroke="#000" stroke-width="1.2" fill="none" stroke-linecap="round"/>
<path d="M236.07 869.03L246.27 879.23M236.07 879.23L246.27 869.03" stroke="#000" stroke-width="1.2" fill="none" stroke-linecap="round"/>
<path d="M243.10 1124.10L253.30 1134.30M243.10 1134.30L253.30 1124.10" stroke="#000" stroke-width="1.2" fill="none" stroke-linecap="round"/>
<polyline points="198.99,871.43 206.02,878.85 213.05,887.62" fill="none" stroke="#858585" stroke-width="2.5" stroke-linejoin="round" stroke-linecap="round"/>
<polyline points="213.05,887.62 220.08,875.48 227.11,859.28" fill="none" stroke="#858585" stroke-width="1.8" stroke-linejoin="round" stroke-linecap="round"/>
<path d="M193.89 866.33L204.09 876.53M193.89 876.53L204.09 866.33" stroke="#858585" stroke-width="1.1" fill="none" stroke-linecap="round"/>
<path d="M200.92 873.75L211.12 883.95M200.92 883.95L211.12 873.75" stroke="#858585" stroke-width="1.1" fill="none" stroke-linecap="round"/>
<path d="M207.95 882.52L218.15 892.72M207.95 892.72L218.15 882.52" stroke="#858585" stroke-width="1.1" fill="none" stroke-linecap="round"/>
<path d="M214.98 870.38L225.18 880.58M214.98 880.58L225.18 870.38" stroke="#858585" stroke-width="1.1" fill="none" stroke-linecap="round"/>
<polyline points="220.08,1129.20 227.11,858.27 234.14,866.70 241.17,874.13 248.20,880.87 255.23,812.04 262.26,818.79 269.29,825.88 276.32,832.63 283.35,1129.20" fill="none" stroke="#000" stroke-width="2.5" stroke-linejoin="round" stroke-linecap="round"/>
<path d="M214.98 1124.10L225.18 1134.30M214.98 1134.30L225.18 1124.10M220.08 1123.70V1134.70" stroke="#000" stroke-width="1.2" fill="none" stroke-linecap="round"/>
<path d="M222.01 853.17L232.21 863.37M222.01 863.37L232.21 853.17M227.11 852.77V863.77" stroke="#000" stroke-width="1.2" fill="none" stroke-linecap="round"/>
<path d="M229.04 861.60L239.24 871.80M229.04 871.80L239.24 861.60M234.14 861.20V872.20" stroke="#000" stroke-width="1.2" fill="none" stroke-linecap="round"/>
<path d="M236.07 869.03L246.27 879.23M236.07 879.23L246.27 869.03M241.17 868.63V879.63" stroke="#000" stroke-width="1.2" fill="none" stroke-linecap="round"/>
<path d="M243.10 875.77L253.30 885.97M243.10 885.97L253.30 875.77M248.2 875.37V886.37" stroke="#000" stroke-width="1.2" fill="none" stroke-linecap="round"/>
<path d="M250.13 806.94L260.33 817.14M250.13 817.14L260.33 806.94M255.23 806.54V817.54" stroke="#000" stroke-width="1.2" fill="none" stroke-linecap="round"/>
<path d="M257.16 813.69L267.36 823.89M257.16 823.89L267.36 813.69M262.26 813.29V824.29" stroke="#000" stroke-width="1.2" fill="none" stroke-linecap="round"/>
<path d="M264.19 820.78L274.39 830.98M264.19 830.98L274.39 820.78M269.29 820.38V831.38" stroke="#000" stroke-width="1.2" fill="none" stroke-linecap="round"/>
<path d="M271.22 827.53L281.42 837.73M271.22 837.73L281.42 827.53M276.32 827.13V838.13" stroke="#000" stroke-width="1.2" fill="none" stroke-linecap="round"/>
<path d="M278.25 1124.10L288.45 1134.30M278.25 1134.30L288.45 1124.10M283.35 1123.70V1134.70" stroke="#000" stroke-width="1.2" fill="none" stroke-linecap="round"/>
<polyline points="248.20,1129.20 255.23,812.04 262.26,818.79 269.29,825.88 276.32,832.63 283.35,839.71 290.38,837.35 297.41,860.63 304.44,871.43 311.47,875.48 318.50,871.43 325.53,1129.20" fill="none" stroke="#000" stroke-width="2.5" stroke-linejoin="round" stroke-linecap="round"/>
<path d="M248.2 1123.30L254.10 1129.2L248.2 1135.10L242.30 1129.2Z" fill="#000"/>
<path d="M255.23 806.14L261.13 812.04L255.23 817.94L249.33 812.04Z" fill="#000"/>
<path d="M262.26 812.89L268.16 818.79L262.26 824.69L256.36 818.79Z" fill="#000"/>
<path d="M269.29 819.98L275.19 825.88L269.29 831.78L263.39 825.88Z" fill="#000"/>
<path d="M276.32 826.73L282.22 832.63L276.32 838.53L270.42 832.63Z" fill="#000"/>
<path d="M283.35 833.81L289.25 839.71L283.35 845.61L277.45 839.71Z" fill="#000"/>
<path d="M290.38 831.45L296.28 837.35L290.38 843.25L284.48 837.35Z" fill="#000"/>
<path d="M297.41 854.73L303.31 860.63L297.41 866.53L291.51 860.63Z" fill="#000"/>
<path d="M304.44 865.53L310.34 871.43L304.44 877.33L298.54 871.43Z" fill="#000"/>
<path d="M311.47 869.58L317.37 875.48L311.47 881.38L305.57 875.48Z" fill="#000"/>
<path d="M318.5 865.53L324.40 871.43L318.5 877.33L312.60 871.43Z" fill="#000"/>
<path d="M325.53 1123.30L331.43 1129.2L325.53 1135.10L319.63 1129.2Z" fill="#000"/>
<polyline points="283.35,1129.20 290.38,812.25 297.41,818.99 304.44,825.74 311.47,832.49 318.50,839.24 325.53,845.99 332.56,852.73 339.59,859.48 346.62,866.23 353.65,872.98 360.68,879.73 367.71,886.47 374.74,893.22 381.77,899.97 388.80,906.72 395.83,913.47 402.86,920.21 409.89,926.96 416.92,933.71 423.95,940.46 430.98,947.21 438.01,953.95 445.04,960.70 452.07,967.45 459.10,974.20 466.13,980.95 473.16,987.69 480.19,994.44 487.22,1001.19 494.25,1007.94 501.28,1014.69 508.31,1021.43 515.34,1028.18 522.37,1034.93 529.40,1041.68 536.43,1048.43 543.46,1055.17 550.49,1061.92 557.52,1068.67 564.55,1075.42 571.58,1082.17 578.61,1088.91 585.64,1093.57 592.67,1096.20 599.70,1101.33 606.73,1104.97 613.76,1109.50 620.79,1114.02 627.82,1117.26 634.85,1119.28 641.88,1121.78 648.91,1128.86" fill="none" stroke="#000" stroke-width="2.5" stroke-linejoin="round" stroke-linecap="round"/>
<circle cx="283.35" cy="1129.2" r="5.7" fill="#000"/>
<circle cx="290.38" cy="812.25" r="5.7" fill="#000"/>
<circle cx="297.41" cy="818.99" r="5.7" fill="#000"/>
<circle cx="304.44" cy="825.74" r="5.7" fill="#000"/>
<circle cx="311.47" cy="832.49" r="5.7" fill="#000"/>
<circle cx="318.5" cy="839.24" r="5.7" fill="#000"/>
<circle cx="325.53" cy="845.99" r="5.7" fill="#000"/>
<circle cx="332.56" cy="852.73" r="5.7" fill="#000"/>
<circle cx="339.59" cy="859.48" r="5.7" fill="#000"/>
<circle cx="346.62" cy="866.23" r="5.7" fill="#000"/>
<circle cx="353.65" cy="872.98" r="5.7" fill="#000"/>
<circle cx="360.68" cy="879.73" r="5.7" fill="#000"/>
<circle cx="367.71" cy="886.47" r="5.7" fill="#000"/>
<circle cx="374.74" cy="893.22" r="5.7" fill="#000"/>
<circle cx="381.77" cy="899.97" r="5.7" fill="#000"/>
<circle cx="388.8" cy="906.72" r="5.7" fill="#000"/>
<circle cx="395.83" cy="913.47" r="5.7" fill="#000"/>
<circle cx="402.86" cy="920.21" r="5.7" fill="#000"/>
<circle cx="409.89" cy="926.96" r="5.7" fill="#000"/>
<circle cx="416.92" cy="933.71" r="5.7" fill="#000"/>
<circle cx="423.95" cy="940.46" r="5.7" fill="#000"/>
<circle cx="430.98" cy="947.21" r="5.7" fill="#000"/>
<circle cx="438.01" cy="953.95" r="5.7" fill="#000"/>
<circle cx="445.04" cy="960.7" r="5.7" fill="#000"/>
<circle cx="452.07" cy="967.45" r="5.7" fill="#000"/>
<circle cx="459.1" cy="974.2" r="5.7" fill="#000"/>
<circle cx="466.13" cy="980.95" r="5.7" fill="#000"/>
<circle cx="473.16" cy="987.69" r="5.7" fill="#000"/>
<circle cx="480.19" cy="994.44" r="5.7" fill="#000"/>
<circle cx="487.22" cy="1001.19" r="5.7" fill="#000"/>
<circle cx="494.25" cy="1007.94" r="5.7" fill="#000"/>
<circle cx="501.28" cy="1014.69" r="5.7" fill="#000"/>
<circle cx="508.31" cy="1021.43" r="5.7" fill="#000"/>
<circle cx="515.34" cy="1028.18" r="5.7" fill="#000"/>
<circle cx="522.37" cy="1034.93" r="5.7" fill="#000"/>
<circle cx="529.4" cy="1041.68" r="5.7" fill="#000"/>
<circle cx="536.43" cy="1048.43" r="5.7" fill="#000"/>
<circle cx="543.46" cy="1055.17" r="5.7" fill="#000"/>
<circle cx="550.49" cy="1061.92" r="5.7" fill="#000"/>
<circle cx="557.52" cy="1068.67" r="5.7" fill="#000"/>
<circle cx="564.55" cy="1075.42" r="5.7" fill="#000"/>
<circle cx="571.58" cy="1082.17" r="5.7" fill="#000"/>
<circle cx="578.61" cy="1088.91" r="5.7" fill="#000"/>
<circle cx="585.64" cy="1093.57" r="5.7" fill="#000"/>
<circle cx="592.67" cy="1096.2" r="5.7" fill="#000"/>
<circle cx="599.7" cy="1101.33" r="5.7" fill="#000"/>
<circle cx="606.73" cy="1104.97" r="5.7" fill="#000"/>
<circle cx="613.76" cy="1109.5" r="5.7" fill="#000"/>
<circle cx="620.79" cy="1114.02" r="5.7" fill="#000"/>
<circle cx="627.82" cy="1117.26" r="5.7" fill="#000"/>
<circle cx="634.85" cy="1119.28" r="5.7" fill="#000"/>
<circle cx="641.88" cy="1121.78" r="5.7" fill="#000"/>
<circle cx="648.91" cy="1128.86" r="5.7" fill="#000"/>
<polyline points="297.41,1129.20 304.44,891.54 311.47,898.28 318.50,905.03 325.53,911.78 332.56,918.53 339.59,925.28 346.62,932.02 353.65,938.77 360.68,945.52 367.71,952.27 374.74,959.02 381.77,965.76 388.80,972.51 395.83,979.26 402.86,986.01 409.89,992.76 416.92,999.50 423.95,1006.25 430.98,1013.00 438.01,1019.75 445.04,1026.50 452.07,1033.24 459.10,1039.99 466.13,1046.74 473.16,1053.49 480.19,1060.24 487.22,1066.98 494.25,1073.73 501.28,1080.48 508.31,1086.96 515.34,1089.79 522.37,1092.63 529.40,1098.29 536.43,1103.09 543.46,1108.75 550.49,1114.08 557.52,1117.86 564.55,1121.98 571.58,1128.86" fill="none" stroke="#000" stroke-width="2.5" stroke-linejoin="round" stroke-linecap="round"/>
<rect x="291.91" y="1123.70" width="11" height="11" fill="#000"/>
<rect x="298.94" y="886.04" width="11" height="11" fill="#000"/>
<rect x="305.97" y="892.78" width="11" height="11" fill="#000"/>
<rect x="313.00" y="899.53" width="11" height="11" fill="#000"/>
<rect x="320.03" y="906.28" width="11" height="11" fill="#000"/>
<rect x="327.06" y="913.03" width="11" height="11" fill="#000"/>
<rect x="334.09" y="919.78" width="11" height="11" fill="#000"/>
<rect x="341.12" y="926.52" width="11" height="11" fill="#000"/>
<rect x="348.15" y="933.27" width="11" height="11" fill="#000"/>
<rect x="355.18" y="940.02" width="11" height="11" fill="#000"/>
<rect x="362.21" y="946.77" width="11" height="11" fill="#000"/>
<rect x="369.24" y="953.52" width="11" height="11" fill="#000"/>
<rect x="376.27" y="960.26" width="11" height="11" fill="#000"/>
<rect x="383.30" y="967.01" width="11" height="11" fill="#000"/>
<rect x="390.33" y="973.76" width="11" height="11" fill="#000"/>
<rect x="397.36" y="980.51" width="11" height="11" fill="#000"/>
<rect x="404.39" y="987.26" width="11" height="11" fill="#000"/>
<rect x="411.42" y="994.00" width="11" height="11" fill="#000"/>
<rect x="418.45" y="1000.75" width="11" height="11" fill="#000"/>
<rect x="425.48" y="1007.50" width="11" height="11" fill="#000"/>
<rect x="432.51" y="1014.25" width="11" height="11" fill="#000"/>
<rect x="439.54" y="1021.00" width="11" height="11" fill="#000"/>
<rect x="446.57" y="1027.74" width="11" height="11" fill="#000"/>
<rect x="453.60" y="1034.49" width="11" height="11" fill="#000"/>
<rect x="460.63" y="1041.24" width="11" height="11" fill="#000"/>
<rect x="467.66" y="1047.99" width="11" height="11" fill="#000"/>
<rect x="474.69" y="1054.74" width="11" height="11" fill="#000"/>
<rect x="481.72" y="1061.48" width="11" height="11" fill="#000"/>
<rect x="488.75" y="1068.23" width="11" height="11" fill="#000"/>
<rect x="495.78" y="1074.98" width="11" height="11" fill="#000"/>
<rect x="502.81" y="1081.46" width="11" height="11" fill="#000"/>
<rect x="509.84" y="1084.29" width="11" height="11" fill="#000"/>
<rect x="516.87" y="1087.13" width="11" height="11" fill="#000"/>
<rect x="523.90" y="1092.79" width="11" height="11" fill="#000"/>
<rect x="530.93" y="1097.59" width="11" height="11" fill="#000"/>
<rect x="537.96" y="1103.25" width="11" height="11" fill="#000"/>
<rect x="544.99" y="1108.58" width="11" height="11" fill="#000"/>
<rect x="552.02" y="1112.36" width="11" height="11" fill="#000"/>
<rect x="559.05" y="1116.48" width="11" height="11" fill="#000"/>
<rect x="566.08" y="1123.36" width="11" height="11" fill="#000"/>
</g>
<text class="t" transform="translate(107.90,1164.2) scale(0.925,1)" text-anchor="middle">0</text>
<text class="t" transform="translate(248.50,1164.2) scale(0.925,1)" text-anchor="middle">20</text>
<text class="t" transform="translate(389.10,1164.2) scale(0.925,1)" text-anchor="middle">40</text>
<text class="t" transform="translate(529.70,1164.2) scale(0.925,1)" text-anchor="middle">60</text>
<text class="t" transform="translate(670.30,1164.2) scale(0.925,1)" text-anchor="middle">80</text>
<text class="ttl" x="535.1" y="42.3">Control</text>
<text class="ttl" x="662.5" y="445.2" text-anchor="end" font-style="italic">M. anisopliae</text>
<text class="ttl" x="660.4" y="823.3" text-anchor="end" font-style="italic">B. bassiana</text>
<path d="M534.2 63.80H582.6" stroke="#000" stroke-width="2.5" stroke-linecap="round"/>
<path d="M553.30 63.8H563.50M558.4 58.70V68.90" stroke="#000" stroke-width="1.4" fill="none"/>
<text class="lg" x="588.5" y="69.70">Egg</text>
<path d="M534.2 86.00H582.6" stroke="#000" stroke-width="2.5" stroke-linecap="round"/>
<rect x="552.70" y="84.15" width="11.4" height="3.7" rx="0.8" fill="#000"/>
<text class="lg" x="588.5" y="91.90">L1</text>
<path d="M534.2 108.20H582.6" stroke="#000" stroke-width="2.5" stroke-linecap="round"/>
<path d="M558.4 102.40L564.30 113.50H552.50Z" fill="#000"/>
<text class="lg" x="588.5" y="114.10">L2</text>
<path d="M534.2 130.40H582.6" stroke="#000" stroke-width="2.5" stroke-linecap="round"/>
<path d="M553.30 125.30L563.50 135.50M553.30 135.50L563.50 125.30" stroke="#000" stroke-width="1.2" fill="none" stroke-linecap="round"/>
<text class="lg" x="588.5" y="136.30">L3</text>
<path d="M534.2 152.60H582.6" stroke="#000" stroke-width="2.5" stroke-linecap="round"/>
<path d="M553.30 147.50L563.50 157.70M553.30 157.70L563.50 147.50M558.4 147.10V158.10" stroke="#000" stroke-width="1.2" fill="none" stroke-linecap="round"/>
<text class="lg" x="588.5" y="158.50">L4</text>
<path d="M534.2 174.80H582.6" stroke="#000" stroke-width="2.5" stroke-linecap="round"/>
<path d="M558.4 168.90L564.30 174.8L558.4 180.70L552.50 174.8Z" fill="#000"/>
<text class="lg" x="588.5" y="180.70">Pupa</text>
<path d="M534.2 197.00H582.6" stroke="#000" stroke-width="2.5" stroke-linecap="round"/>
<circle cx="558.4" cy="197.0" r="5.7" fill="#000"/>
<text class="lg" x="588.5" y="202.90">Female</text>
<path d="M534.2 219.20H582.6" stroke="#000" stroke-width="2.5" stroke-linecap="round"/>
<rect x="552.90" y="213.70" width="11" height="11" fill="#000"/>
<text class="lg" x="588.5" y="225.10">Male</text>
<text transform="translate(381.5,1213.8) scale(1.034,1)" text-anchor="middle" font-weight="bold" font-size="34.3" fill="#000">Age (days)</text>
<text class="ax" transform="translate(30.7,750) rotate(-90)" x="0" y="0"><tspan letter-spacing="-0.28">Life expectancy</tspan><tspan x="270.9" letter-spacing="0">(</tspan><tspan x="284.0">e</tspan><tspan x="303.3" font-style="italic" font-size="24" dy="5.8">xj</tspan><tspan x="322.3" dy="-5.8">)</tspan></text>
</svg></body></html>
